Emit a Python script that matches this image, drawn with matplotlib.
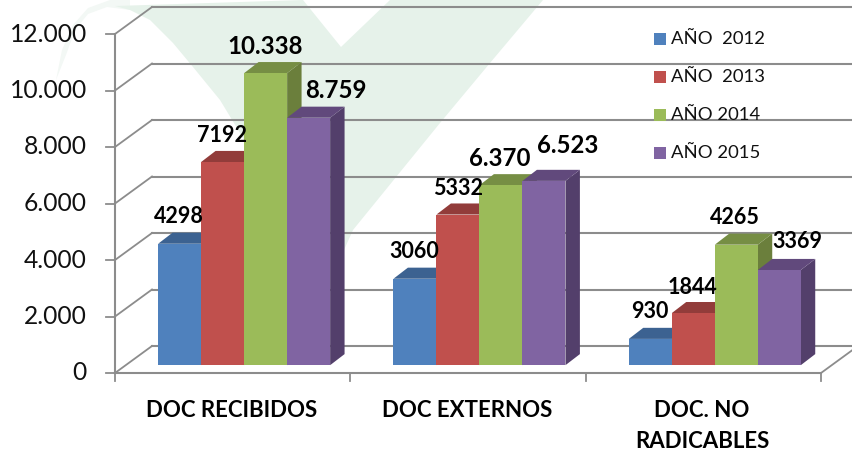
import numpy as np
import matplotlib
matplotlib.use('Agg')
import matplotlib.pyplot as plt
from matplotlib.patches import Polygon

categories = ['DOC RECIBIDOS', 'DOC EXTERNOS', 'DOC. NO\nRADICABLES']
years = ['AÑO  2012', 'AÑO  2013', 'AÑO 2014', 'AÑO 2015']
values_2012 = [4298, 3060, 930]
values_2013 = [7192, 5332, 1844]
values_2014 = [10338, 6370, 4265]
values_2015 = [8759, 6523, 3369]
labels_2012 = ['4298', '3060', '930']
labels_2013 = ['7192', '5332', '1844']
labels_2014 = ['10.338', '6.370', '4265']
labels_2015 = ['8.759', '6.523', '3369']
y_ticks = [0, 2000, 4000, 6000, 8000, 10000, 12000]
y_tick_labels = ['0', '2.000', '4.000', '6.000', '8.000', '10.000', '12.000']

# hand placed label offsets from the top of each bar, in pixels
label_dx = [[-1, -1, 0], [-1, 0, -1], [-1, -1, -1], [27, 24, 18]]
label_dy = [[27, 27, 27], [26, 26, 26], [27, 27, 27], [27, 35, 28]]

front_colors = ['#4f81bd', '#c0504d', '#9bbb59', '#8064a2']
top_colors = ['#3c6291', '#923c3a', '#768e44', '#61497c']
side_colors = ['#3a5f8c', '#8c3836', '#6b7f3c', '#533f6b']
grid_color = '#8c8c8c'
wm_color = '#e6f2ea'
wm_arc_color = '#f3f8f5'

# outline of the pale logo behind the chart, in pixels from the top left
wm_x = [115, 130, 150, 173, 193, 220, 240, 300, 344, 353, 440, 490, 543, 390, 341, 303]
wm_y = [6, 10, 20, 43, 67, 100, 133, 250, 250, 230, 123, 63, 0, 0, 47, 0]
wm_arc_x = [56, 62, 73, 88, 110, 130, 130, 107, 88, 75, 66]
wm_arc_y = [80, 50, 25, 8, 0, 0, 10, 7, 14, 30, 55]

plt.rcParams['font.family'] = ['Lato', 'DejaVu Sans']

fig = plt.figure(figsize=(8.52, 4.53), dpi=100)
ax = fig.add_axes([115 / 852, 80 / 453, 706 / 852, 339 / 453])
ax.set_xlim(-0.5, 2.5)
ax.set_ylim(0, 12000)
ax.axis('off')
ax.set_zorder(1)

# depth of the fake 3d box, in data units
depth_x = 37 / 706 * 3
depth_y = 27 / 339 * 12000
bar_width = 43 / 706 * 3

# watermark behind everything
wm_points = [(x / 852, 1 - y / 453) for x, y in zip(wm_x, wm_y)]
wm_arc_points = [(x / 852, 1 - y / 453) for x, y in zip(wm_arc_x, wm_arc_y)]
fig.patches.append(Polygon(wm_arc_points, closed=True, transform=fig.transFigure, fc=wm_arc_color, ec='none', zorder=-2))
fig.patches.append(Polygon(wm_points, closed=True, transform=fig.transFigure, fc=wm_color, ec='none', zorder=-1))

# floor, walls and gridlines
for v in y_ticks:
    ax.plot([-0.5, -0.5 + depth_x], [v, v + depth_y], color=grid_color, lw=1.3, zorder=1, clip_on=False)
    ax.plot([-0.5 + depth_x, 2.5 + depth_x], [v + depth_y, v + depth_y], color=grid_color, lw=1.5, zorder=1, clip_on=False)
    ax.plot([-0.5, -0.54], [v, v], color=grid_color, lw=1.3, zorder=1, clip_on=False)
ax.plot([-0.5, -0.5], [0, 12000], color=grid_color, lw=1.5, zorder=2, clip_on=False)
ax.plot([-0.5, 2.5], [0, 0], color=grid_color, lw=1.5, zorder=2, clip_on=False)
ax.plot([2.5, 2.5 + depth_x], [0, depth_y], color=grid_color, lw=1.3, zorder=2, clip_on=False)
for x in [-0.5, 0.5, 1.5, 2.5]:
    ax.plot([x, x], [0, -280], color=grid_color, lw=1.3, zorder=2, clip_on=False)


def draw_bar(x, value, i):
    # front face sits part way into the floor
    x0 = x + depth_x * 0.31
    y0 = depth_y * 0.29
    dx = depth_x * 0.39
    dy = depth_y * 0.41
    x1 = x0 + bar_width
    y1 = y0 + value
    z = 3 + i * 0.1
    ax.add_patch(Polygon([(x1, y0), (x1 + dx, y0 + dy), (x1 + dx, y1 + dy), (x1, y1)],
                         closed=True, fc=side_colors[i], ec='none', zorder=z, clip_on=False))
    ax.add_patch(Polygon([(x0, y1), (x1, y1), (x1 + dx, y1 + dy), (x0 + dx, y1 + dy)],
                         closed=True, fc=top_colors[i], ec='none', zorder=z, clip_on=False))
    ax.add_patch(Polygon([(x0, y0), (x1, y0), (x1, y1), (x0, y1)],
                         closed=True, fc=front_colors[i], ec='none', zorder=z + 0.05, clip_on=False))


all_values = [values_2012, values_2013, values_2014, values_2015]
all_labels = [labels_2012, labels_2013, labels_2014, labels_2015]
for i in range(4):
    for c in range(3):
        draw_bar(c + (i - 2) * bar_width, all_values[i][c], i)

# data labels
for i in range(4):
    for c in range(3):
        x = c + (i - 2) * bar_width + depth_x * 0.31 + bar_width / 2
        big = i >= 2 and c < 2
        ax.annotate(all_labels[i][c], (x, depth_y * 0.29 + all_values[i][c]),
                    xytext=(label_dx[i][c] * 0.72, label_dy[i][c] * 0.72),
                    textcoords='offset points', ha='center', va='center', fontweight='bold',
                    fontsize=17.3 if big else 15.5, color='black', zorder=10, annotation_clip=False)

# y axis labels
for v, s in zip(y_ticks, y_tick_labels):
    ax.text(-0.5 - 28 / 235.33, v, s, ha='right', va='center', fontsize=17.7, color='#111111', zorder=10, clip_on=False)

# category labels
for c, name in enumerate(categories):
    ax.text(c - 0.005, -950, name, ha='center', va='top', fontsize=16, fontweight='bold',
            color='black', linespacing=1.6, zorder=10, clip_on=False)

# legend drawn by hand so the text can sit on the gridlines
legend_y = [39, 77, 115, 153]
for i in range(4):
    py = 1 - legend_y[i] / 453
    fig.patches.append(plt.Rectangle((654 / 852, py - 6 / 453), 12 / 852, 12 / 453, transform=fig.transFigure,
                                     fc=front_colors[i], ec='none', zorder=5))
    fig.text(671 / 852, py, years[i], ha='left', va='center', fontsize=13.3, color='#111111', zorder=10)

plt.savefig('out.png', dpi=100)
